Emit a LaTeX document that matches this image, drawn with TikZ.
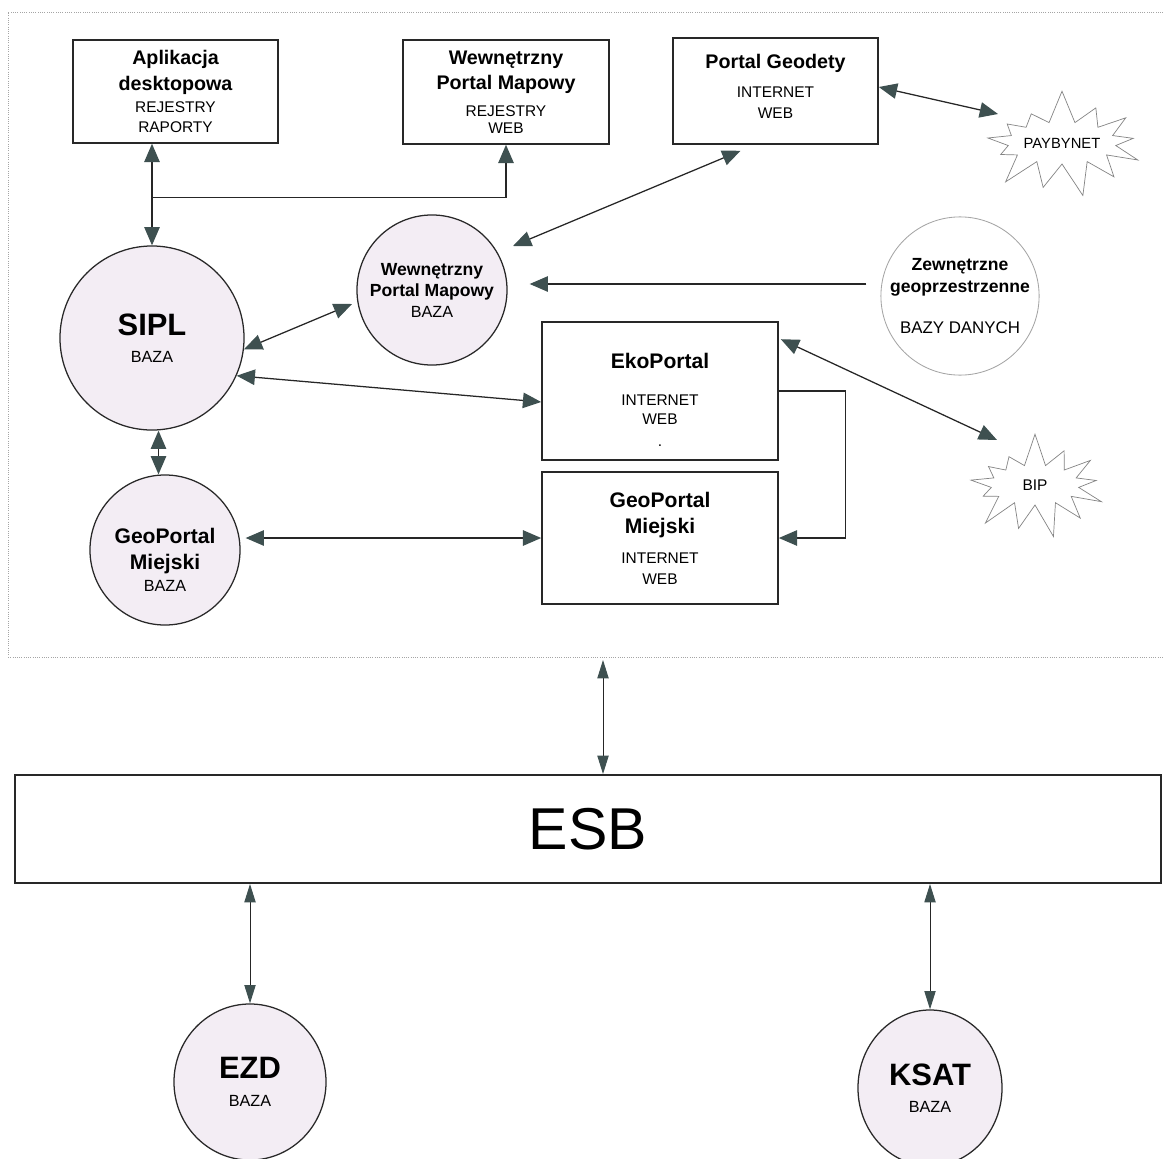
\documentclass[tikz,border=0pt]{standalone}
\usepackage{fontspec}
\setmainfont{Liberation Sans}
\usetikzlibrary{arrows.meta,shapes.symbols,shapes.geometric,calc,fit}
\definecolor{circfill}{RGB}{243,237,244}
\definecolor{arrc}{RGB}{62,80,80}
\definecolor{edgec}{RGB}{40,40,40}
\definecolor{lgray}{RGB}{165,165,165}
\newcommand\ft[1]{\fontsize{#1}{12}\selectfont\bfseries}
\newcommand\fn[1]{\fontsize{#1}{12}\selectfont}
\newcommand\padtop[1]{\rule{0pt}{#1}}
\newcommand\padbot[1]{\rule[-#1]{0pt}{#1}}
\setlength\lineskiplimit{-50pt}
\tikzset{
  box/.style={draw=edgec, line width=1.1pt, fill=white, align=center, inner sep=0pt},
  circ/.style={circle, draw=edgec, line width=0.9pt, fill=circfill, align=center, inner sep=0pt},
  oval/.style={ellipse, draw=edgec, line width=0.9pt, fill=circfill, align=center, inner sep=0pt},
  burst/.style={starburst, starburst points=13, starburst point height=0.85cm, random starburst=7,
     draw=lgray!80!black, line width=0.5pt, fill=white, align=center, inner sep=0pt},
  conn/.style={draw=black!85, line width=0.9pt, >={Triangle[length=13pt,width=11pt,color=arrc]}},
  thinconn/.style={draw=black!85, line width=0.7pt, >={Triangle[length=13pt,width=8pt,color=arrc]}}
}
\begin{document}
\begin{tikzpicture}[x=0.025cm, y=-0.025cm]
\useasboundingbox (0,0) rectangle (1163,1158);
% dotted frame
\node[draw=lgray, densely dotted, line width=0.6pt, inner sep=0pt, fit={(8,12) (1180,657)}] (frame) {};

% top boxes
\node[box, minimum width=5.125cm, minimum height=2.575cm] (apl) at (175.5,91.5)
  {\ft{14}Aplikacja\\[6.5pt]\ft{14}desktopowa\\[3.6pt]\fn{11}REJESTRY\\[2.2pt]\fn{11}RAPORTY};
\node[box, minimum width=5.15cm, minimum height=2.6cm] (wpmbox) at (506,92)
  {\ft{14}Wewnętrzny\\[5.8pt]\ft{14}Portal Mapowy\\[7.2pt]\fn{11}REJESTRY\\[0pt]\fn{11}WEB};
\node[box, minimum width=5.125cm, minimum height=2.65cm] (pg) at (775.5,91)
  {\ft{14}Portal Geodety\\[8.6pt]\fn{11}INTERNET\\[2.9pt]\fn{11}WEB\padbot{7pt}};
\node[burst, minimum width=3.85cm, minimum height=2.75cm] (pay) at (1062,143) {\fn{10.5}PAYBYNET};

% circles
\node[circ, minimum size=4.6cm] (sipl) at (152,338) {\ft{22}SIPL\\[7.2pt]\fn{11.5}BAZA};
\node[circ, minimum size=3.75cm] (wpmc) at (432,290)
  {\ft{12.5}Wewnętrzny\\[2.9pt]\ft{12.5}Portal Mapowy\\[2.9pt]\fn{11.5}BAZA};
\node[circ, draw=lgray, fill=white, line width=0.6pt, minimum size=3.95cm] (zew) at (960,296)
  {\ft{12.5}Zewnętrzne\\[3.6pt]\ft{12.5}geoprzestrzenne\\[17.2pt]\fn{12}BAZY DANYCH};
\node[circ, minimum size=3.75cm] (gpm) at (165,550)
  {\ft{15}\padtop{25pt}GeoPortal\\[6.5pt]\ft{15}Miejski\\[3.6pt]\fn{11.5}BAZA};

% middle boxes
\node[box, minimum width=5.9cm, minimum height=3.45cm] (eko) at (660,391)
  {\ft{15}\padtop{23.5pt}EkoPortal\\[14.3pt]\fn{11}INTERNET\\[1.5pt]\fn{11}WEB\\[3.6pt]\fn{11}.};
\node[box, minimum width=5.9cm, minimum height=3.3cm] (gp) at (660,538)
  {\ft{15}GeoPortal\\[6.5pt]\ft{15}Miejski\\[9.3pt]\fn{11}INTERNET\\[2.9pt]\fn{11}WEB};
\node[burst, minimum width=3.9cm, minimum height=2.7cm] (bip) at (1035,485) {\fn{11}BIP};

% ESB
\node[draw=edgec, line width=1.4pt, fill=white, inner sep=0pt, minimum width=28.65cm, minimum height=2.7cm] (esb) at (588,829) {\fn{42}ESB};

% bottom circles
\node[oval, minimum width=3.8cm, minimum height=3.9cm] (ezd) at (250,1082) {\ft{22}EZD\\[7.9pt]\fn{11.5}BAZA};
\node[oval, minimum width=3.6cm, minimum height=3.9cm] (ksat) at (930,1088) {\ft{22}KSAT\\[7.2pt]\fn{11.5}BAZA};

% connectors
\draw[conn,<->] (apl.south -| sipl.north) -- (sipl.north);
\coordinate (j1) at ($(apl.south -| sipl.north)+(0,54)$);
\draw[conn,->] (j1) -| (wpmbox.south);
\draw[conn,<->] ($(wpmc.center)+(81,-44)$) -- ($(pg.south)+(-35,6)$);
\draw[conn,<->] ($(pg.east)+(0,-4)$) -- ($(pay.center)+(-64,-29)$);
\draw[conn,->] ($(zew.west)+(-14,-12)$) -- ($(wpmc.east)+(22,-6)$);
\draw[conn,<->] (sipl.-7.5) -- ($(wpmc.center)+(-80,14)$);
\draw[conn,<->] (sipl.-24) -- ($(eko.west)+(0,11)$);
\coordinate (m6) at ($(sipl.south)!0.5!(gpm.north)$);
\draw[conn,<->] (sipl.south -| m6) -- (gpm.north -| m6);
\draw[conn,<->] ($(gp.west -| gpm.east)+(5,0)$) -- (gp.west);
\draw[conn,->] (eko.east) -- ++(67,0) |- (gp.east);
\draw[conn,<->] ($(eko.north east)+(2,18)$) -- ($(bip.center)+(-38,-45)$);
\coordinate (c11) at (603,660);
\draw[thinconn,<->] (c11) -- (c11 |- esb.north);
\draw[thinconn,<->] (esb.south -| ezd.north) -- (ezd.north);
\draw[thinconn,<->] (esb.south -| ksat.north) -- (ksat.north);
\end{tikzpicture}
\end{document}
